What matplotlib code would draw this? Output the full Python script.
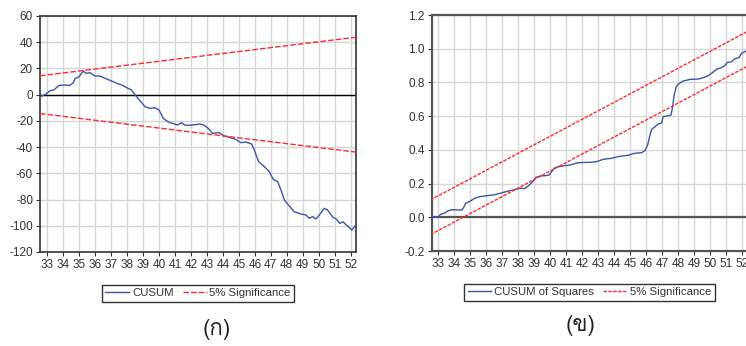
import matplotlib
matplotlib.use("Agg")
import matplotlib.pyplot as plt
from matplotlib import font_manager
from matplotlib.ft2font import FT2Font

# ---- CUSUM (ก) ----
cusum_x = [32.54, 32.86, 33.17, 33.40, 33.75, 34.10, 34.40, 34.63, 34.74, 34.95,
           35.15, 35.25, 35.42, 35.67, 35.98, 36.30, 36.61, 37.03, 37.34, 37.66,
           38.06, 38.27, 38.49, 38.80, 39.12, 39.43, 39.74, 40.00, 40.26, 40.47,
           40.68, 40.99, 41.14, 41.41, 41.62, 41.93, 42.25, 42.56, 42.81, 43.08,
           43.35, 43.77, 44.09, 44.40, 44.81, 45.13, 45.44, 45.80, 45.97, 46.12,
           46.24, 46.60, 46.90, 47.16, 47.43, 47.64, 47.85, 48.16, 48.47, 48.89,
           49.20, 49.41, 49.62, 49.83, 50.04, 50.35, 50.56, 50.90, 51.10, 51.32,
           51.53, 51.74, 52.08, 52.34]
cusum_y = [-1.5, 0.0, 3.0, 3.6, 7.1, 7.4, 7.0, 9.1, 12.5, 13.2,
           16.3, 18.0, 16.3, 16.8, 14.2, 14.2, 12.5, 10.4, 8.7, 7.4,
           4.8, 3.6, 0.0, -4.6, -9.2, -10.4, -10.0, -11.7, -18.0, -19.9,
           -21.4, -22.4, -23.2, -21.4, -23.2, -23.4, -22.9, -22.4, -23.2, -25.7,
           -29.5, -29.0, -31.5, -32.5, -34.1, -36.6, -36.1, -37.6, -42.2, -47.3,
           -51.1, -54.9, -58.7, -64.6, -66.4, -72.7, -80.3, -84.9, -89.3, -91.0,
           -91.8, -94.3, -93.0, -94.8, -91.8, -86.7, -88.0, -93.6, -94.8, -98.2,
           -97.0, -99.5, -103.2, -99.4]
cusum_band_x = [32.54, 52.34]
cusum_upper = [14.4, 43.8]
cusum_lower = [-14.4, -43.8]

# ---- CUSUM of Squares (ข) ----
sq_x = [32.63, 33.04, 33.20, 33.44, 33.66, 33.87, 34.50, 34.60, 34.75, 35.00,
        35.31, 35.62, 36.05, 36.47, 36.88, 37.30, 37.71, 38.13, 38.44, 38.65,
        38.86, 39.13, 39.40, 39.70, 39.96, 40.10, 40.31, 40.73, 41.25, 41.77,
        42.50, 42.91, 43.33, 43.85, 44.25, 44.88, 45.30, 45.71, 45.92, 46.09,
        46.24, 46.34, 46.55, 46.75, 46.96, 47.06, 47.30, 47.55, 47.65, 47.73,
        47.86, 48.00, 48.30, 48.73, 49.24, 49.56, 49.86, 50.08, 50.39, 50.70,
        50.91, 51.05, 51.33, 51.53, 51.80, 51.95, 52.22, 52.33]
sq_y = [0.000, 0.004, 0.018, 0.025, 0.039, 0.045, 0.043, 0.055, 0.083, 0.094,
        0.113, 0.122, 0.128, 0.132, 0.142, 0.153, 0.162, 0.172, 0.171, 0.186,
        0.205, 0.237, 0.245, 0.247, 0.251, 0.270, 0.294, 0.304, 0.310, 0.324,
        0.326, 0.330, 0.344, 0.350, 0.360, 0.368, 0.380, 0.383, 0.395, 0.429,
        0.488, 0.522, 0.537, 0.553, 0.560, 0.597, 0.600, 0.607, 0.656, 0.715,
        0.771, 0.790, 0.808, 0.818, 0.820, 0.828, 0.840, 0.854, 0.878, 0.888,
        0.900, 0.918, 0.923, 0.940, 0.949, 0.973, 0.986, 1.000]
sq_band_x = [32.55, 52.33]
sq_upper = [0.103, 1.103]
sq_lower = [-0.103, 0.897]

year_ticks = list(range(33, 53))
cusum_ticks = [-120, -100, -80, -60, -40, -20, 0, 20, 40, 60]
sq_ticks = [-0.2, 0.0, 0.2, 0.4, 0.6, 0.8, 1.0, 1.2]

BLUE = "#3a56a8"
RED = "#ff2a2a"
GRID = "#d6d6d6"
TXT = "#333333"


def find_thai_font():
    for f in font_manager.fontManager.ttflist:
        try:
            if 0x0E01 in FT2Font(f.fname).get_charmap():
                return f.name
        except Exception:
            pass
    return "DejaVu Sans"


plt.rcParams["font.family"] = ["Liberation Sans", "DejaVu Sans"]
plt.rcParams["font.size"] = 8.5

W, H = 746, 346
fig = plt.figure(figsize=(W / 100, H / 100), dpi=100)

ax1 = fig.add_axes([40 / W, 1 - 252 / H, 316 / W, 236 / H])
ax2 = fig.add_axes([431.7 / W, 1 - 251 / H, 316 / W, 236 / H])


def style(ax, xlim, ylim, yticks, fmt):
    ax.set_xlim(*xlim)
    ax.set_ylim(*ylim)
    ax.set_xticks(year_ticks)
    ax.set_yticks(yticks)
    ax.set_yticklabels([fmt(v) for v in yticks])
    ax.grid(True, color=GRID, linewidth=1.0)
    ax.set_axisbelow(True)
    ax.tick_params(direction="out", length=3, width=0.8, colors=TXT,
                   labelsize=8.5, pad=2)
    for s in ax.spines.values():
        s.set_color("#333333")
        s.set_linewidth(1.2)


# panel (ก)
ax1.axhline(0, color="black", linewidth=1.0, zorder=2)
l1, = ax1.plot(cusum_x, cusum_y, color=BLUE, linewidth=1.0, zorder=3)
r1, = ax1.plot(cusum_band_x, cusum_upper, color=RED, linewidth=1.0,
               dashes=(4, 1.5), zorder=3)
ax1.plot(cusum_band_x, cusum_lower, color=RED, linewidth=1.0,
         dashes=(4, 1.5), zorder=3)
style(ax1, (32.54, 52.34), (-120, 60), cusum_ticks, lambda v: f"{v:d}")

# panel (ข)
ax2.axhline(0, color="#555555", linewidth=1.6, zorder=2)
l2, = ax2.plot(sq_x, sq_y, color=BLUE, linewidth=1.0, zorder=3)
r2, = ax2.plot(sq_band_x, sq_upper, color=RED, linewidth=1.0,
               dashes=(2.5, 1), zorder=3)
ax2.plot(sq_band_x, sq_lower, color=RED, linewidth=1.0,
         dashes=(2.5, 1), zorder=3)
style(ax2, (32.63, 52.33), (-0.2, 1.2), sq_ticks, lambda v: f"{v:.1f}")
for s in ax2.spines.values():
    s.set_color("#555555")
    s.set_linewidth(1.6)

leg_kw = dict(ncol=2, frameon=True, fancybox=False, handlelength=2.1,
              handletextpad=0.25, columnspacing=0.8, borderpad=0.3,
              borderaxespad=0, fontsize=8.2, loc="upper center")
lg1 = fig.legend([l1, r1], ["CUSUM", "5% Significance"],
                 bbox_to_anchor=(198 / W, 1 - 285 / H), **leg_kw)
lg2 = fig.legend([l2, r2], ["CUSUM of Squares", "5% Significance"],
                 bbox_to_anchor=(589.5 / W, 1 - 284 / H), **leg_kw)
for lg in (lg1, lg2):
    lg.get_frame().set_edgecolor("black")
    lg.get_frame().set_linewidth(1.0)
    for t in lg.get_texts():
        t.set_color(TXT)

thai = find_thai_font()
fig.text(217 / W, 1 - 330 / H, "(ก)", ha="center", va="center",
         fontsize=16, family=[thai, "DejaVu Sans"], color="#222222")
fig.text(581 / W, 1 - 325 / H, "(ข)", ha="center", va="center",
         fontsize=16, family=[thai, "DejaVu Sans"], color="#222222")

fig.savefig("out.png", dpi=100)
